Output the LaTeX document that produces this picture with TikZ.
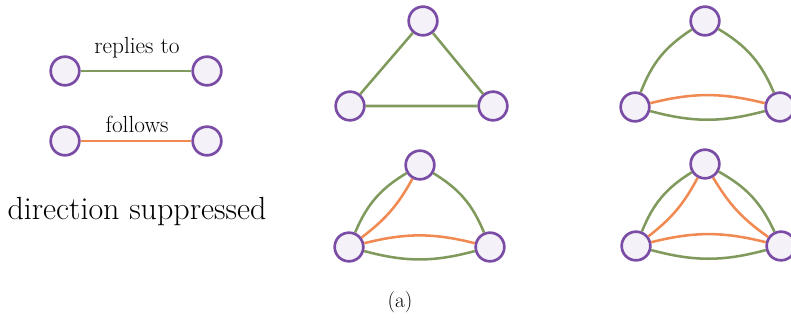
\documentclass[tikz,border=0pt]{standalone}
\usepackage{tikz}
\usetikzlibrary{positioning}
\definecolor{vtxline}{HTML}{7A4CA6}
\definecolor{vtxfill}{HTML}{F4F2F8}
\definecolor{replygreen}{HTML}{7F9A5C}
\definecolor{followorange}{HTML}{F08A52}
\tikzset{
  vtx/.style={circle, draw=vtxline, fill=vtxfill, line width=2pt, minimum size=21.5pt, inner sep=0pt},
  reply/.style={draw=replygreen, line width=1.9pt},
  follow/.style={draw=followorange, line width=1.9pt},
  lbl/.style={font=\fontsize{17.5}{20}\selectfont, inner sep=0pt}
}

\begin{document}
\begin{tikzpicture}[x=0.75pt, y=-0.75pt]
  \useasboundingbox (0,0) rectangle (791,320);

  % legend
  \node[vtx] (ra) at (65,71) {};
  \node[vtx] (rb) at (207,71) {};
  \draw[reply] (ra) -- (rb);
  \node[lbl] (rtxt) at (137,48) {replies to};
  \node[vtx] (fa) at (65,141) {};
  \node[vtx] (fb) at (207,141) {};
  \draw[follow] (fa) -- (fb);
  \node[lbl] (ftxt) at (137,124) {follows};
  \node[font=\fontsize{24}{28}\selectfont, inner sep=0pt] (dir) at (137,212) {direction suppressed};

  % triangle 1: replies only
  \node[vtx] (a1) at (423,21) {};
  \node[vtx] (b1) at (350,106) {};
  \node[vtx] (c1) at (493,106) {};
  \draw[reply] (b1) -- (a1) -- (c1) -- (b1);

  % triangle 2
  \node[vtx] (a2) at (705,21) {};
  \node[vtx] (b2) at (635,107) {};
  \node[vtx] (c2) at (780,107) {};
  \draw[reply] (b2) to[bend left=18] (a2);
  \draw[reply] (a2) to[bend left=18] (c2);
  \draw[reply] (b2) to[bend right=15] (c2);
  \draw[follow] (b2) to[bend left=14] (c2);

  % triangle 3
  \node[vtx] (a3) at (420,165) {};
  \node[vtx] (b3) at (349,247) {};
  \node[vtx] (c3) at (490,247) {};
  \draw[reply] (b3) to[bend left=18] (a3);
  \draw[follow] (b3) to[bend right=12] (a3);
  \draw[reply] (a3) to[bend left=18] (c3);
  \draw[reply] (b3) to[bend right=15] (c3);
  \draw[follow] (b3) to[bend left=14] (c3);

  % triangle 4
  \node[vtx] (a4) at (705,164) {};
  \node[vtx] (b4) at (636,246) {};
  \node[vtx] (c4) at (781,246) {};
  \draw[reply] (b4) to[bend left=18] (a4);
  \draw[follow] (b4) to[bend right=12] (a4);
  \draw[reply] (a4) to[bend left=18] (c4);
  \draw[follow] (a4) to[bend right=12] (c4);
  \draw[reply] (b4) to[bend right=15] (c4);
  \draw[follow] (b4) to[bend left=14] (c4);

  \node[font=\fontsize{16}{19}\selectfont, inner sep=0pt] (cap) at (400,302) {(a)};
\end{tikzpicture}
\end{document}
